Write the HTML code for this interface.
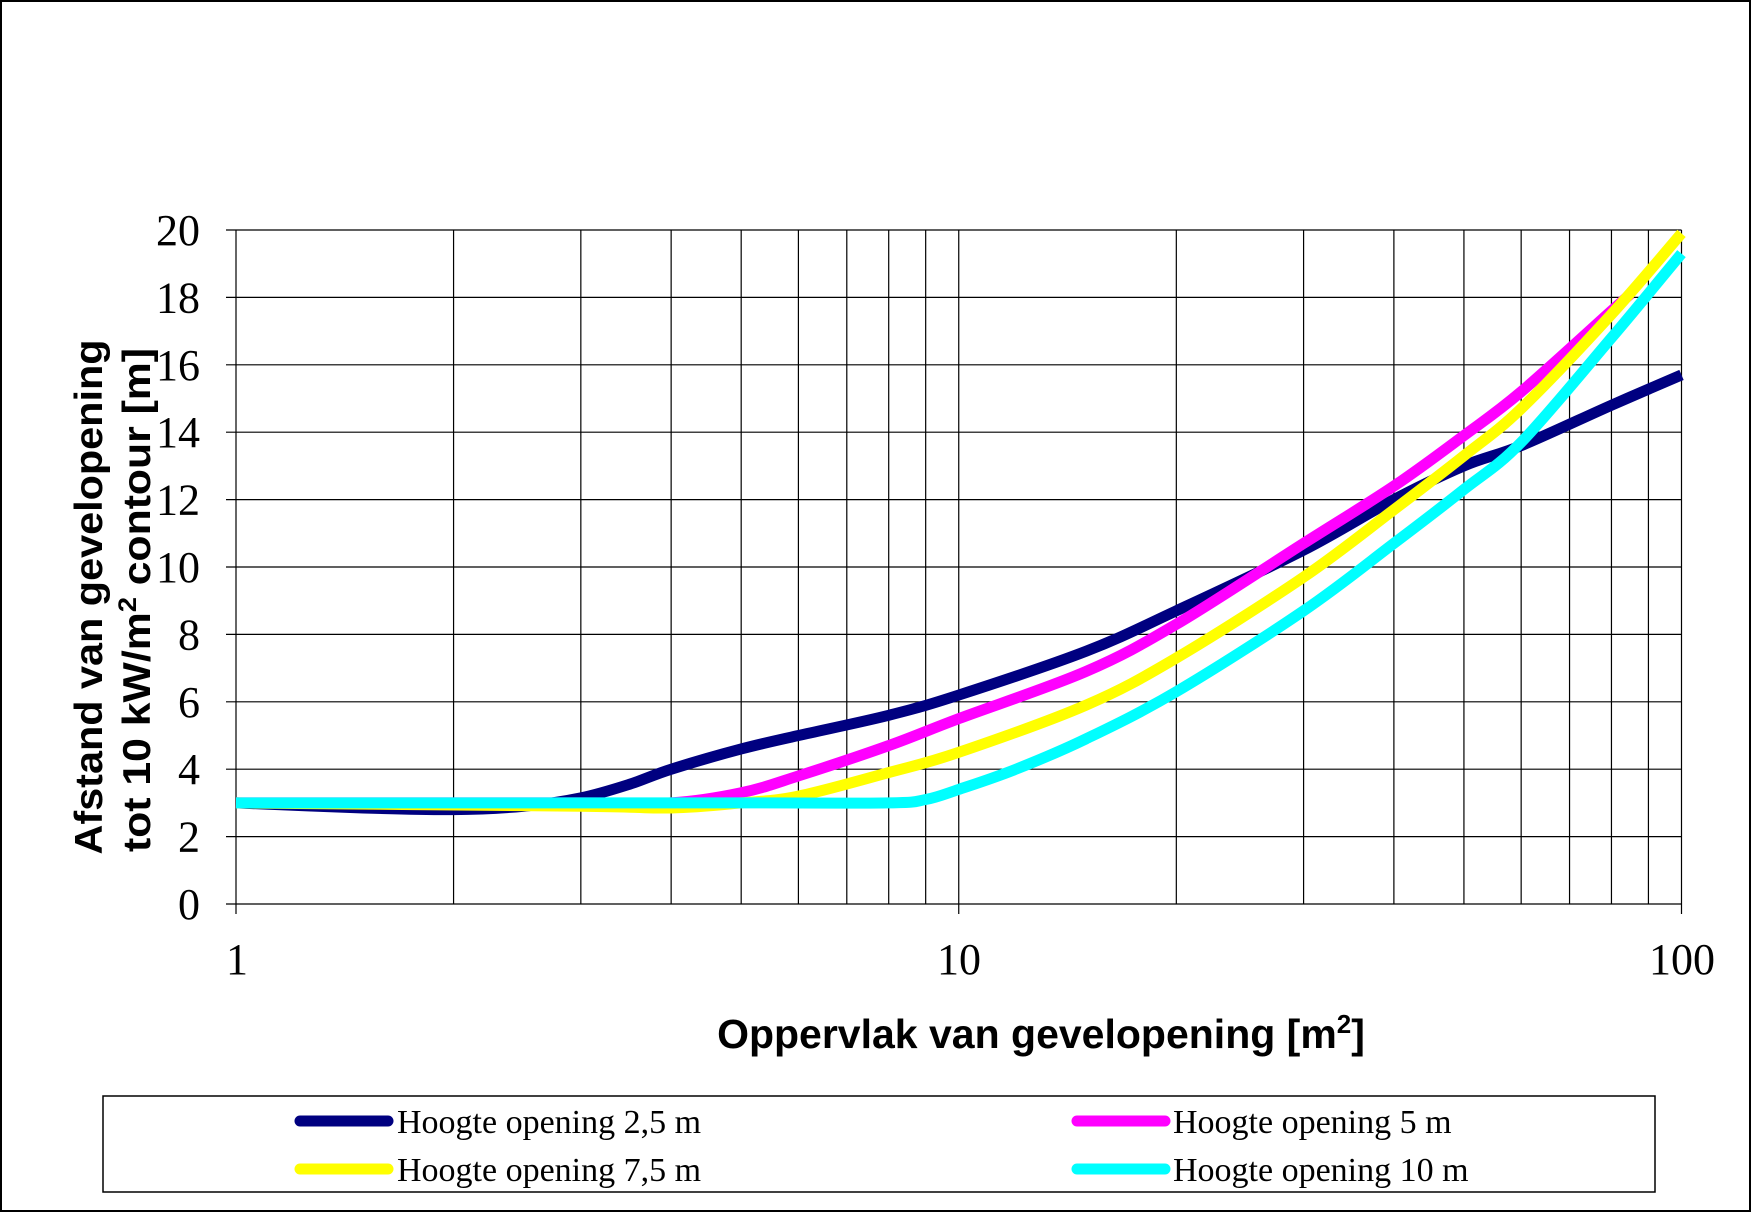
<!DOCTYPE html>
<html><head><meta charset="utf-8"><style>
html,body{margin:0;padding:0;background:#fff;}
svg{display:block;}
</style></head><body>
<svg id="s" width="1752" height="1213" xmlns="http://www.w3.org/2000/svg">
<rect x="1" y="1" width="1749" height="1210" fill="#fff" stroke="#000" stroke-width="2"/>
<g id="grid" stroke="#000" stroke-width="1.2"></g>
<g id="curves" fill="none" stroke-width="11" stroke-linejoin="round"></g>
<g font-family="Liberation Serif, serif" font-size="44" text-anchor="end" id="ylab"></g>
<g font-family="Liberation Serif, serif" font-size="44" text-anchor="middle">
<text x="237" y="974">1</text><text x="959" y="974">10</text><text x="1682" y="974">100</text>
</g>
<text x="1041" y="1048" font-family="Liberation Sans, sans-serif" font-weight="bold" font-size="41" text-anchor="middle">Oppervlak van gevelopening [m<tspan font-size="26" dy="-15">2</tspan><tspan dy="15">]</tspan></text>
<g font-family="Liberation Sans, sans-serif" font-weight="bold" font-size="39" text-anchor="middle">
<text transform="translate(102,597) rotate(-90)" textLength="515" lengthAdjust="spacingAndGlyphs">Afstand van gevelopening</text>
<text transform="translate(150,600) rotate(-90)" textLength="504" lengthAdjust="spacingAndGlyphs">tot 10 kW/m<tspan font-size="25" dy="-14">2</tspan><tspan dy="14"> contour [m]</tspan></text>
</g>
<rect x="103" y="1096" width="1552" height="96" fill="none" stroke="#000" stroke-width="1.5"/>
<g stroke-width="11" stroke-linecap="round">
<line x1="300" y1="1121" x2="388" y2="1121" stroke="#000080"/>
<line x1="300" y1="1169" x2="388" y2="1169" stroke="#ffff00"/>
<line x1="1077" y1="1121" x2="1165" y2="1121" stroke="#ff00ff"/>
<line x1="1077" y1="1169" x2="1165" y2="1169" stroke="#00ffff"/>
</g>
<g font-family="Liberation Serif, serif" font-size="34">
<text x="397" y="1133">Hoogte opening 2,5 m</text>
<text x="397" y="1181">Hoogte opening 7,5 m</text>
<text x="1173" y="1133">Hoogte opening 5 m</text>
<text x="1173" y="1181">Hoogte opening 10 m</text>
</g>
</svg>
<script>
var NS="http://www.w3.org/2000/svg";
function X(v){return 236+Math.log10(v)*722.75;}
function Y(v){return 904-v*33.7;}
var g=document.getElementById('grid'),yl=document.getElementById('ylab');
function ln(x1,y1,x2,y2){var l=document.createElementNS(NS,'line');l.setAttribute('x1',x1);l.setAttribute('y1',y1);l.setAttribute('x2',x2);l.setAttribute('y2',y2);g.appendChild(l);}
for(var i=0;i<=10;i++){var y=Y(i*2);ln(226,y,1681.5,y);var t=document.createElementNS(NS,'text');t.setAttribute('x',200);t.setAttribute('y',y+15);t.textContent=i*2;yl.appendChild(t);}
[1,2,3,4,5,6,7,8,9,10,20,30,40,50,60,70,80,90,100].forEach(function(v){var x=X(v);ln(x,230,x,(v==1||v==10||v==100)?914:904);});
var data=[
["#000080",[[1,3],[1.5,2.85],[2,2.8],[2.5,2.9],[3,3.15],[3.5,3.55],[4,4],[5,4.6],[6,5],[8,5.6],[10,6.2],[15,7.5],[20,8.7],[30,10.5],[40,12],[50,13],[60,13.6],[80,14.8],[100,15.7]]],
["#ff00ff",[[1,3],[3,3],[4,3],[5,3.3],[6,3.8],[8,4.7],[10,5.5],[15,6.9],[20,8.3],[30,10.7],[40,12.4],[50,13.9],[60,15.2],[80,17.6],[85,18.1]]],
["#ffff00",[[1,3],[3,2.9],[4,2.85],[5,3],[6,3.2],[8,3.9],[10,4.5],[15,5.9],[20,7.3],[30,9.7],[40,11.7],[50,13.3],[60,14.7],[80,17.5],[100,19.9]]],
["#00ffff",[[1,3],[5,3],[8,3],[9,3.1],[10,3.4],[12,4],[15,4.9],[20,6.3],[30,8.7],[40,10.7],[50,12.3],[60,13.7],[80,16.8],[100,19.3]]]];
var c=document.getElementById('curves');
data.forEach(function(d){
 var p=d[1].map(function(q){return [X(q[0]),Y(q[1])];});
 var s="M"+p[0][0]+","+p[0][1];
 for(var i=0;i<p.length-1;i++){
  var p0=p[Math.max(i-1,0)],p1=p[i],p2=p[i+1],p3=p[Math.min(i+2,p.length-1)];
  var c1=[p1[0]+(p2[0]-p0[0])/6,p1[1]+(p2[1]-p0[1])/6],c2=[p2[0]-(p3[0]-p1[0])/6,p2[1]-(p3[1]-p1[1])/6];
  s+=" C"+c1+" "+c2+" "+p2;
 }
 var e=document.createElementNS(NS,'path');e.setAttribute('d',s);e.setAttribute('stroke',d[0]);c.appendChild(e);
});
</script>
</body></html>
